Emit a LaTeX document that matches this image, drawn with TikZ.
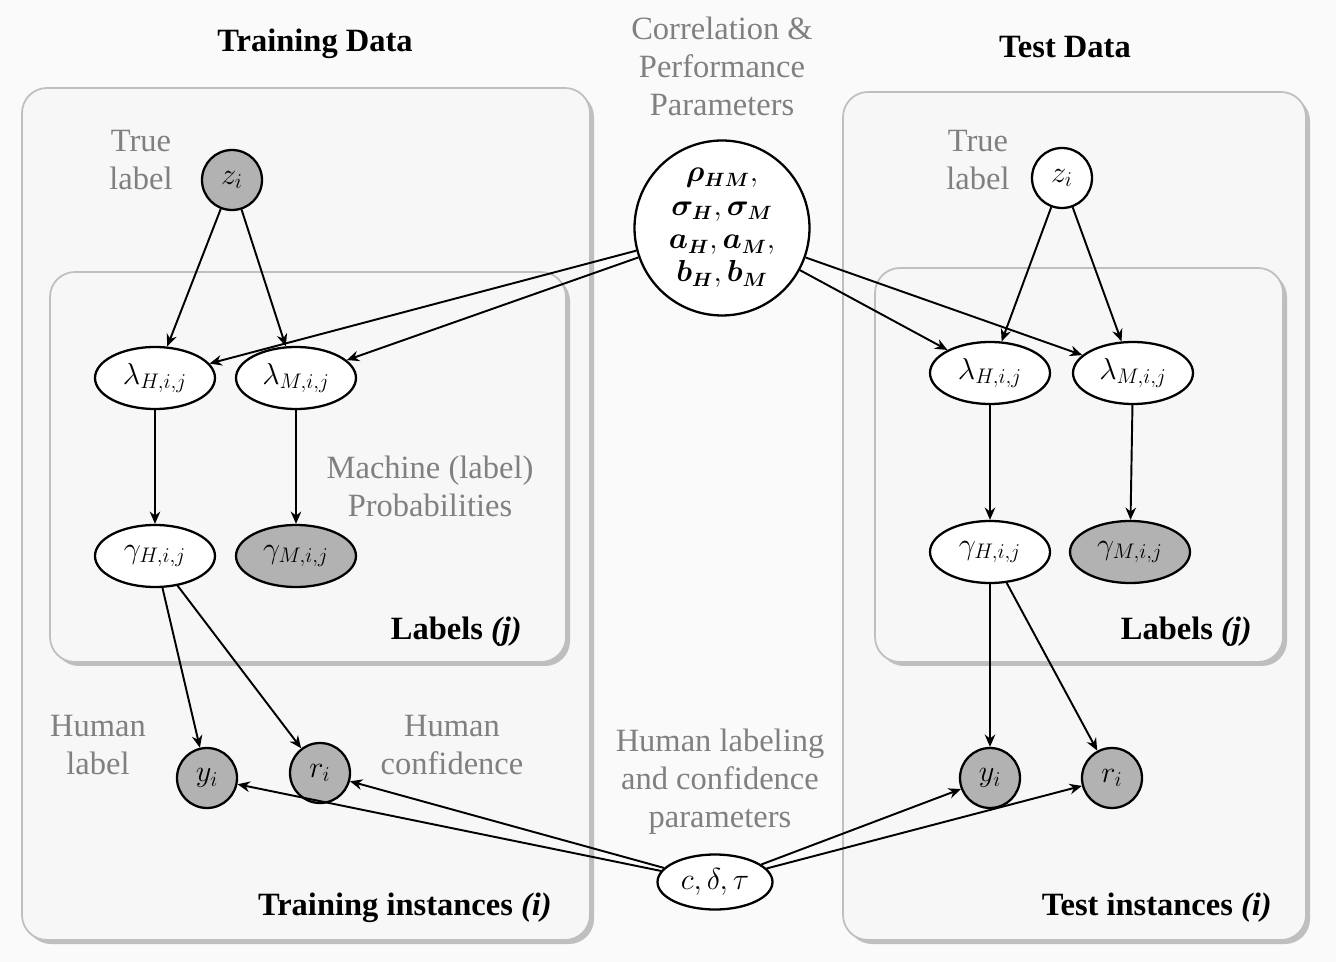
\documentclass[tikz,border=0pt]{standalone}
\usepackage{amsmath}
\usepackage{bm}
\usepackage{fontspec}
\setmainfont{Liberation Serif}
\usetikzlibrary{shapes.geometric,arrows.meta,shadows}
\begin{document}
\begin{tikzpicture}[x=0.02cm,y=-0.02cm,
  every node/.style={font=\fontsize{18.5}{21.6}\selectfont},
  plate/.style={rounded corners=0.5cm,fill=black!3,draw=black!25,line width=1pt,
    drop shadow={shadow xshift=0.08cm,shadow yshift=-0.08cm,fill=black!40,opacity=0.6}},
  gtext/.style={text=black!50,align=center},
  btext/.style={font=\fontsize{18.5}{21.6}\selectfont\bfseries},
  var/.style={ellipse,draw,line width=1.3pt,minimum width=2.4cm,minimum height=1.24cm,inner sep=0pt,fill=white},
  obs/.style={fill=black!30},
  rv/.style={circle,draw,line width=1.3pt,minimum size=1.2cm,inner sep=0pt,fill=white},
  arr/.style={-{Stealth[length=7pt,width=6pt]},line width=1.1pt}]
\fill[black!2] (0,0) rectangle (1336,962);
\useasboundingbox (0,0) rectangle (1336,962);
% plates
\path[plate] (22,88) rectangle (590,940);
\path[plate] (50,272) rectangle (566,662);
\path[plate] (843,92) rectangle (1306,940);
\path[plate] (875,268) rectangle (1283,662);
% titles
\node[btext] (t1) at (315,44) {Training Data};
\node[btext] (t2) at (1065,47) {Test Data};
\node[gtext] (cp) at (722,66) {Correlation \&\\Performance\\Parameters};
\node[gtext] (hl) at (720,782) {Human labeling\\and confidence\\parameters};
% center parameter circle
\node[circle,draw,line width=1.3pt,minimum size=3.5cm,fill=white,align=center,inner sep=0pt,
  font=\fontsize{16}{19}\selectfont] (P) at (722,228)
  {$\bm{\rho_{HM}},$\\$\bm{\sigma_H},\bm{\sigma_M}$\\$\bm{a_H},\bm{a_M},$\\$\bm{b_H},\bm{b_M}$};
\node[ellipse,draw,line width=1.3pt,minimum width=2.3cm,minimum height=1.1cm,inner sep=0pt,fill=white] (C) at (715,882) {$c,\delta,\tau$};
% left side
\node[gtext] (tl1) at (141,160) {True\\label};
\node[rv,obs] (z1) at (232,180) {$z_i$};
\node[var] (lh1) at (155,378) {$\lambda_{H,i,j}$};
\node[var] (lm1) at (296,378) {$\lambda_{M,i,j}$};
\node[var] (gh1) at (155,556) {$\gamma_{H,i,j}$};
\node[var,obs] (gm1) at (296,556) {$\gamma_{M,i,j}$};
\node[gtext] (mp) at (430,486) {Machine (label)\\Probabilities};
\node[btext,anchor=east] (lj1) at (528,632) {Labels \textit{(j)}};
\node[gtext] (hlab) at (98,745) {Human\\label};
\node[rv,obs] (y1) at (207,778) {$y_i$};
\node[rv,obs] (r1) at (320,773) {$r_i$};
\node[gtext] (hc) at (452,745) {Human\\confidence};
\node[btext,anchor=east] (ti1) at (558,908) {Training instances \textit{(i)}};
% right side
\node[gtext] (tl2) at (978,160) {True\\label};
\node[rv] (z2) at (1062,178) {$z_i$};
\node[var] (lh2) at (990,373) {$\lambda_{H,i,j}$};
\node[var] (lm2) at (1133,373) {$\lambda_{M,i,j}$};
\node[var] (gh2) at (990,552) {$\gamma_{H,i,j}$};
\node[var,obs] (gm2) at (1130,552) {$\gamma_{M,i,j}$};
\node[btext,anchor=east] (lj2) at (1258,632) {Labels \textit{(j)}};
\node[rv,obs] (y2) at (990,778) {$y_i$};
\node[rv,obs] (r2) at (1112,778) {$r_i$};
\node[btext,anchor=east] (ti2) at (1278,908) {Test instances \textit{(i)}};
% edges
\draw[arr] (z1) -- (lh1);
\draw[arr] (z1) -- (lm1);
\draw[arr] (z2) -- (lh2);
\draw[arr] (z2) -- (lm2);
\draw[arr] (P) -- (lh1);
\draw[arr] (P) -- (lm1);
\draw[arr] (P) -- (lh2);
\draw[arr] (P) -- (lm2);
\draw[arr] (lh1) -- (gh1);
\draw[arr] (lm1) -- (gm1);
\draw[arr] (lh2) -- (gh2);
\draw[arr] (lm2) -- (gm2);
\draw[arr] (gh1) -- (y1);
\draw[arr] (gh1) -- (r1);
\draw[arr] (gh2) -- (y2);
\draw[arr] (gh2) -- (r2);
\draw[arr] (C) -- (y1);
\draw[arr] (C) -- (r1);
\draw[arr] (C) -- (y2);
\draw[arr] (C) -- (r2);
\end{tikzpicture}
\end{document}
